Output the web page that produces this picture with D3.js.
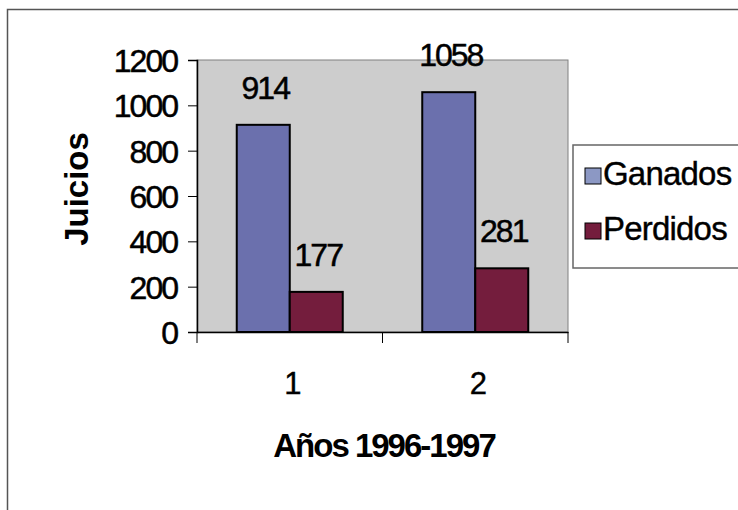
<!DOCTYPE HTML>
<html lang="es">
  <head>
    <meta charset="UTF-8">
    <title>Juicios 1996-1997</title>
    <style>
body { margin: 0; background: #fff; }
text { font-family: 'Liberation Sans', Arial, sans-serif; fill: #000; }
.num { font-size: 32px; letter-spacing: -2px; stroke: #000; stroke-width: 0.5px; }
.title { font-size: 33px; font-weight: 700; }
    </style>
  </head>
  <body>
    <div id="vis"></div>
    <script src="https://d3js.org/d3.v7.min.js"></script>
    <script>

const categories = ["1", "2"];
const series = ["Ganados", "Perdidos"];
const ganados = [914, 1058];
const perdidos = [177, 281];
const yTicks = [0, 200, 400, 600, 800, 1000, 1200];

const colors = {"Ganados": "#6b70ad", "Perdidos": "#741d3d"};

const width = 738;
const height = 510;
const plot = {left: 197, right: 568, top: 60, bottom: 332};

let svg = d3.select("#vis").append("svg")
    .attr("width", width)
    .attr("height", height);

// outer chart frame
svg.append("path")
    .attr("d", "M7.5," + height + "V9.5H" + width)
    .attr("fill", "none")
    .attr("stroke", "#555")
    .attr("stroke-width", 1.5);

let x0 = d3.scaleBand()
    .domain(categories)
    .range([plot.left, plot.right])
    .padding(0);

const groupW = x0.bandwidth() * 2 / 3.5;
let x1 = d3.scaleBand()
    .domain(series)
    .range([0, groupW]);

let y = d3.scaleLinear()
    .domain([0, 1200])
    .range([plot.bottom, plot.top]);

// plot area
svg.append("rect")
    .attr("x", plot.left)
    .attr("y", plot.top)
    .attr("width", plot.right - plot.left)
    .attr("height", plot.bottom - plot.top)
    .attr("fill", "#cdcdcd")
    .attr("stroke", "#808080")
    .attr("stroke-width", 1);

const rows = categories.map(function(c, i){
  return {cat: c, values: [
    {key: "Ganados", value: ganados[i]},
    {key: "Perdidos", value: perdidos[i]}
  ]};
});

let groups = svg.selectAll("g.group")
    .data(rows)
  .enter().append("g")
    .attr("class", "group")
    .attr("transform", function(d){
      return "translate(" + (x0(d.cat) + (x0.bandwidth() - groupW) / 2) + ",0)";
    });

groups.selectAll("rect")
    .data(function(d){ return d.values; })
  .enter().append("rect")
    .attr("x", function(d){ return x1(d.key); })
    .attr("y", function(d){ return y(d.value); })
    .attr("width", x1.bandwidth())
    .attr("height", function(d){ return y(0) - y(d.value); })
    .attr("fill", function(d){ return colors[d.key]; })
    .attr("stroke", "#000")
    .attr("stroke-width", 2);

groups.selectAll("text")
    .data(function(d){ return d.values; })
  .enter().append("text")
    .attr("class", "num")
    .attr("x", function(d){ return x1(d.key) + x1.bandwidth() / 2 + 2; })
    .attr("y", function(d){ return y(d.value) - 26; })
    .attr("text-anchor", "middle")
    .text(function(d){ return d.value; });

// y axis
let yAxis = svg.append("g")
    .attr("transform", "translate(" + plot.left + ",0)")
    .call(d3.axisLeft(y).tickValues(yTicks).tickFormat(d3.format("d")).tickSize(9).tickPadding(11));
yAxis.select(".domain").attr("stroke", "#000").attr("stroke-width", 1.5);
yAxis.selectAll(".tick line").attr("stroke", "#000");
yAxis.selectAll(".tick text")
    .attr("class", "num")
    .attr("font-family", null)
    .attr("font-size", null)
    .attr("dy", "0.36em");

// x axis: labels centred, ticks on category boundaries
let xAxis = svg.append("g")
    .attr("transform", "translate(0," + plot.bottom + ")")
    .call(d3.axisBottom(x0).tickSize(0).tickPadding(40));
xAxis.select(".domain").attr("stroke", "#000").attr("stroke-width", 1.5);
xAxis.selectAll(".tick text")
    .attr("font-family", null)
    .attr("font-size", 31)
    .attr("stroke", "#000")
    .attr("stroke-width", 0.4)
    .attr("dx", 3);

const bounds = [plot.left].concat(categories.map(function(c){ return x0(c) + x0.bandwidth(); }));
xAxis.selectAll("line.bound")
    .data(bounds)
  .enter().append("line")
    .attr("class", "bound")
    .attr("x1", function(d){ return d; })
    .attr("x2", function(d){ return d; })
    .attr("y1", 0)
    .attr("y2", 11)
    .attr("stroke", "#000");

// axis titles
svg.append("text")
    .attr("class", "title")
    .attr("transform", "translate(88,189) rotate(-90)")
    .attr("text-anchor", "middle")
    .text("Juicios");

svg.append("text")
    .attr("class", "title")
    .attr("x", 384)
    .attr("y", 457)
    .attr("text-anchor", "middle")
    .style("letter-spacing", "-2px")
    .text("Años 1996-1997");

// legend
let legend = svg.append("g");
legend.append("rect")
    .attr("x", 573)
    .attr("y", 145)
    .attr("width", 170)
    .attr("height", 123)
    .attr("fill", "#fff")
    .attr("stroke", "#666")
    .attr("stroke-width", 1.5);

let items = legend.selectAll("g.item")
    .data(series)
  .enter().append("g")
    .attr("class", "item")
    .attr("transform", function(d, i){ return "translate(585," + (168 + i * 55) + ")"; });

items.append("rect")
    .attr("width", 16)
    .attr("height", 16)
    .attr("fill", function(d){ return d === "Ganados" ? "#8c98c4" : colors[d]; })
    .attr("stroke", "#000")
    .attr("stroke-width", 1);

items.append("text")
    .attr("x", 18)
    .attr("y", 17)
    .attr("font-size", 33)
    .attr("stroke", "#000")
    .attr("stroke-width", 0.4)
    .style("letter-spacing", "-0.8px")
    .text(function(d){ return d; });

    </script>
  </body>
</html>
